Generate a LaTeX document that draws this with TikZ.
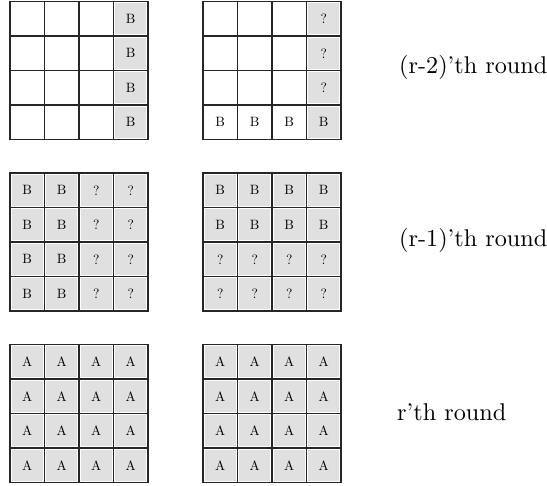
\documentclass[tikz,border=0pt]{standalone}
\usepackage{tikz}
\definecolor{cellgray}{RGB}{224,224,224}
\newcommand{\cellsz}{34.5}
\newcommand{\cellfont}[1]{\scalebox{1.35}{\fontsize{10}{12}\selectfont #1}}
\newcommand{\lblfont}[1]{\scalebox{2.42}{\fontsize{10}{12}\selectfont #1}}
\tikzset{
  x=1pt, y=1pt,
  cell/.style={minimum size=34.5pt, inner sep=0pt, outer sep=0pt},
  st0/.style={},
  st1/.style={fill=cellgray, draw=white, line width=3.4pt},
  gridline/.style={draw=black!85, line width=1.3pt},
  lbl/.style={anchor=west, inner sep=0pt}
}
\newcommand{\drawgrid}[4]{%
  \foreach \rowlist [count=\r] in {#4} {
    \foreach \s/\t [count=\c] in \rowlist {
      \node[cell, st\s] (#1-\r-\c) at ({#2+(\c-0.5)*\cellsz},{#3-(\r-0.5)*\cellsz}) {\cellfont{\t}};
    }
  }
  \foreach \r in {1,...,4}{\foreach \c in {1,...,4}{
    \draw[gridline] (#1-\r-\c.south west) rectangle (#1-\r-\c.north east);}}
}
\begin{document}
\begin{tikzpicture}
\useasboundingbox[fill=white] (0,0) rectangle (547,-486);
\drawgrid{ga}{10}{-1.5}{{0/,0/,0/,1/B},{0/,0/,0/,1/B},{0/,0/,0/,1/B},{0/,0/,0/,1/B}}
\drawgrid{gb}{203}{-1.5}{{0/,0/,0/,1/?},{0/,0/,0/,1/?},{0/,0/,0/,1/?},{0/B,0/B,0/B,1/B}}
\drawgrid{gc}{10}{-173}{{1/B,1/B,1/?,1/?},{1/B,1/B,1/?,1/?},{1/B,1/B,1/?,1/?},{1/B,1/B,1/?,1/?}}
\drawgrid{gd}{203}{-173}{{1/B,1/B,1/B,1/B},{1/B,1/B,1/B,1/B},{1/?,1/?,1/?,1/?},{1/?,1/?,1/?,1/?}}
\drawgrid{ge}{10}{-344.5}{{1/A,1/A,1/A,1/A},{1/A,1/A,1/A,1/A},{1/A,1/A,1/A,1/A},{1/A,1/A,1/A,1/A}}
\drawgrid{gf}{203}{-344.5}{{1/A,1/A,1/A,1/A},{1/A,1/A,1/A,1/A},{1/A,1/A,1/A,1/A},{1/A,1/A,1/A,1/A}}
\node[lbl] (l1) at (399,-67) {\lblfont{(r-2)'th round}};
\node[lbl] (l2) at (399,-240) {\lblfont{(r-1)'th round}};
\node[lbl] (l3) at (397,-412) {\lblfont{r'th round}};
\end{tikzpicture}
\end{document}
